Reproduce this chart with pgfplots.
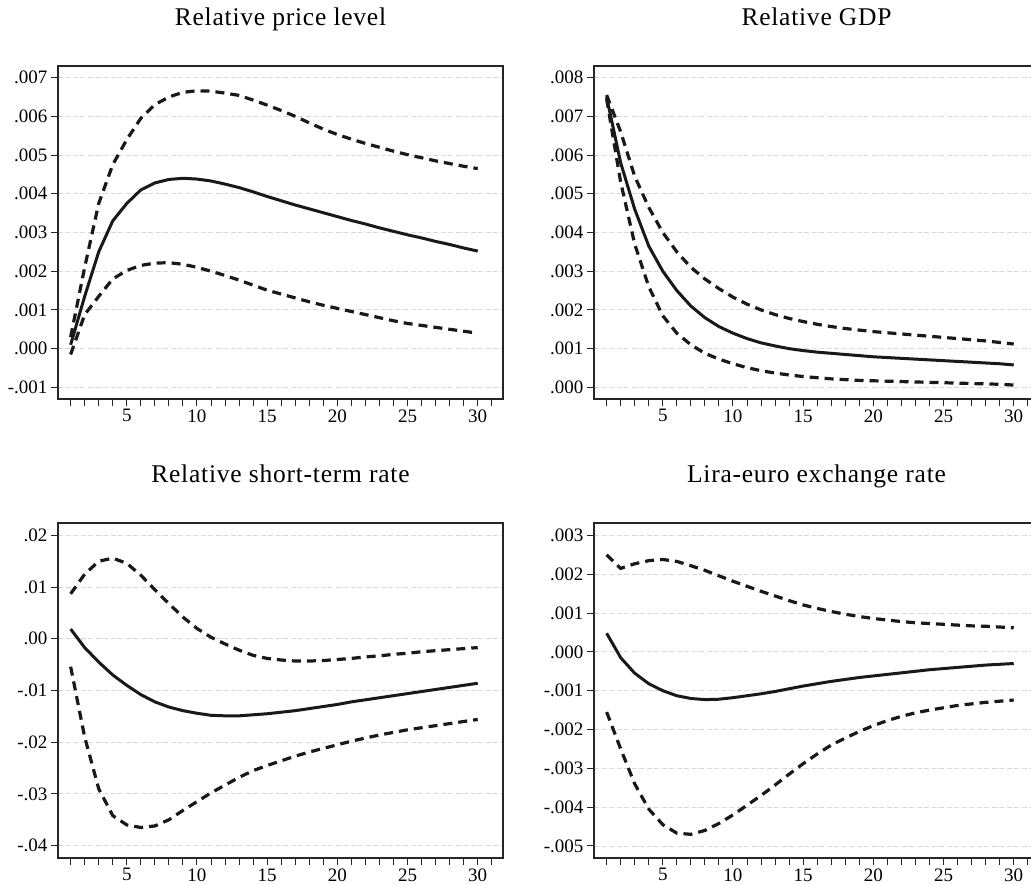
\documentclass[border=0pt]{standalone}
\usepackage{fontspec}
\setmainfont{Liberation Serif}
\usepackage{pgfplots}
\usepackage{pgfplotstable}
\pgfplotsset{compat=1.18}

\pgfplotstableread{
x mid lo hi
1 0.00010 -0.00015 0.00030
2 0.00135 0.00088 0.00210
3 0.00250 0.00135 0.00375
4 0.00330 0.00180 0.00475
5 0.00375 0.00202 0.00540
6 0.00410 0.00215 0.00595
7 0.00428 0.00221 0.00630
8 0.00437 0.00222 0.00650
9 0.00440 0.00218 0.00662
10 0.00438 0.00210 0.00666
11 0.00433 0.00200 0.00665
12 0.00425 0.00189 0.00660
13 0.00416 0.00177 0.00654
14 0.00405 0.00164 0.00642
15 0.00393 0.00151 0.00629
16 0.00382 0.00141 0.00615
17 0.00371 0.00131 0.00600
18 0.00361 0.00121 0.00583
19 0.00351 0.00112 0.00567
20 0.00341 0.00104 0.00553
21 0.00331 0.00096 0.00541
22 0.00322 0.00088 0.00530
23 0.00312 0.00080 0.00520
24 0.00303 0.00072 0.00510
25 0.00294 0.00065 0.00501
26 0.00286 0.00060 0.00493
27 0.00277 0.00055 0.00485
28 0.00269 0.00050 0.00478
29 0.00260 0.00045 0.00471
30 0.00252 0.00040 0.00465
}\price

\pgfplotstableread{
x mid lo hi
1 0.00750 0.00745 0.00755
2 0.00580 0.00530 0.00660
3 0.00460 0.00370 0.00545
4 0.00365 0.00260 0.00465
5 0.00300 0.00185 0.00400
6 0.00250 0.00140 0.00350
7 0.00210 0.00110 0.00310
8 0.00180 0.00088 0.00280
9 0.00157 0.00073 0.00255
10 0.00140 0.00061 0.00233
11 0.00126 0.00051 0.00215
12 0.00115 0.00043 0.00200
13 0.00107 0.00037 0.00188
14 0.00100 0.00032 0.00178
15 0.00095 0.00028 0.00170
16 0.00091 0.00025 0.00163
17 0.00088 0.00022 0.00157
18 0.00085 0.00020 0.00152
19 0.00082 0.00018 0.00148
20 0.00079 0.00017 0.00144
21 0.00077 0.00016 0.00141
22 0.00075 0.00015 0.00138
23 0.00073 0.00014 0.00135
24 0.00071 0.00013 0.00132
25 0.00069 0.00012 0.00129
26 0.00067 0.00011 0.00126
27 0.00065 0.00010 0.00123
28 0.00063 0.00009 0.00120
29 0.00061 0.00008 0.00116
30 0.00058 0.00006 0.00112
}\gdp

\pgfplotstableread{
x mid lo hi
1 0.0019 -0.0054 0.0087
2 -0.0017 -0.0190 0.0125
3 -0.0045 -0.0290 0.0150
4 -0.0070 -0.0342 0.0156
5 -0.0090 -0.0360 0.0146
6 -0.0108 -0.0365 0.0123
7 -0.0122 -0.0362 0.0095
8 -0.0132 -0.0350 0.0068
9 -0.0139 -0.0332 0.0042
10 -0.0144 -0.0315 0.0020
11 -0.0148 -0.0298 0.0003
12 -0.0149 -0.0283 -0.0010
13 -0.0149 -0.0268 -0.0022
14 -0.0147 -0.0255 -0.0032
15 -0.0145 -0.0245 -0.0038
16 -0.0142 -0.0236 -0.0041
17 -0.0139 -0.0227 -0.0043
18 -0.0135 -0.0219 -0.0043
19 -0.0131 -0.0212 -0.0042
20 -0.0127 -0.0205 -0.0040
21 -0.0122 -0.0198 -0.0038
22 -0.0118 -0.0192 -0.0035
23 -0.0114 -0.0186 -0.0033
24 -0.0110 -0.0181 -0.0030
25 -0.0106 -0.0176 -0.0028
26 -0.0102 -0.0172 -0.0025
27 -0.0098 -0.0168 -0.0023
28 -0.0094 -0.0164 -0.0021
29 -0.0090 -0.0160 -0.0019
30 -0.0086 -0.0156 -0.0017
}\rate

\pgfplotstableread{
x mid lo hi
1 0.00048 -0.00155 0.00250
2 -0.00015 -0.00250 0.00215
3 -0.00055 -0.00340 0.00227
4 -0.00082 -0.00405 0.00235
5 -0.00100 -0.00445 0.00238
6 -0.00113 -0.00467 0.00233
7 -0.00120 -0.00470 0.00222
8 -0.00123 -0.00460 0.00210
9 -0.00122 -0.00442 0.00196
10 -0.00118 -0.00420 0.00182
11 -0.00113 -0.00395 0.00169
12 -0.00108 -0.00370 0.00156
13 -0.00102 -0.00343 0.00144
14 -0.00095 -0.00315 0.00132
15 -0.00088 -0.00288 0.00121
16 -0.00082 -0.00263 0.00112
17 -0.00076 -0.00240 0.00104
18 -0.00071 -0.00222 0.00097
19 -0.00066 -0.00205 0.00091
20 -0.00062 -0.00190 0.00086
21 -0.00058 -0.00177 0.00082
22 -0.00054 -0.00166 0.00078
23 -0.00050 -0.00157 0.00075
24 -0.00046 -0.00150 0.00073
25 -0.00043 -0.00144 0.00071
26 -0.00040 -0.00138 0.00069
27 -0.00037 -0.00134 0.00067
28 -0.00034 -0.00130 0.00066
29 -0.00032 -0.00127 0.00064
30 -0.00030 -0.00124 0.00062
}\lira

\pgfplotsset{
  irf/.style={
    scale only axis, width=445pt,
    xmin=0.1, xmax=31.8,
    xtick={5,10,...,30}, minor xtick={1,...,31},
    tick align=outside, major tick length=7pt, minor tick length=7pt,
    xtick pos=bottom, ytick pos=left,
    axis line style={line width=1.6pt, black!85},
    every tick/.style={black!85, line width=1pt},
    ymajorgrids,
    major grid style={dash pattern=on 5pt off 2.5pt, black!15, line width=0.9pt},
    tick label style={font=\fontsize{19}{21}\selectfont},
    /pgf/number format/assume math mode=true,
    scaled y ticks=false,
    title style={font=\fontsize{25.5}{28}\selectfont\addfontfeatures{LetterSpace=3},
      at={(0.5,1)}, anchor=base, yshift=34.3pt},
    anchor=south west,
  },
  mid/.style={black!90, line width=3pt},
  band/.style={black!90, line width=3.2pt, dash pattern=on 9pt off 6pt},
}

\begin{document}
\begin{tikzpicture}
\path[use as bounding box] (0,0) rectangle (1031pt,884pt);

\begin{axis}[irf, at={(58pt,485pt)}, height=333pt,
  title={Relative price level},
  ymin=-0.0013, ymax=0.0073,
  ytick={-0.001,0,0.001,0.002,0.003,0.004,0.005,0.006,0.007},
  yticklabels={-.001,.000,.001,.002,.003,.004,.005,.006,.007}]
\addplot[band] table[x=x,y=hi]{\price};
\addplot[band] table[x=x,y=lo]{\price};
\addplot[mid] table[x=x,y=mid]{\price};
\end{axis}

\begin{axis}[irf, at={(594pt,485pt)}, height=333pt,
  title={Relative GDP},
  ymin=-0.0003, ymax=0.0083,
  ytick={0,0.001,0.002,0.003,0.004,0.005,0.006,0.007,0.008},
  yticklabels={.000,.001,.002,.003,.004,.005,.006,.007,.008}]
\addplot[band] table[x=x,y=hi]{\gdp};
\addplot[band] table[x=x,y=lo]{\gdp};
\addplot[mid] table[x=x,y=mid]{\gdp};
\end{axis}

\begin{axis}[irf, at={(58pt,26pt)}, height=335pt,
  title={Relative short-term rate},
  ymin=-0.0424, ymax=0.0224,
  ytick={-0.04,-0.03,-0.02,-0.01,0,0.01,0.02},
  yticklabels={-.04,-.03,-.02,-.01,.00,.01,.02}]
\addplot[band] table[x=x,y=hi]{\rate};
\addplot[band] table[x=x,y=lo]{\rate};
\addplot[mid] table[x=x,y=mid]{\rate};
\end{axis}

\begin{axis}[irf, at={(594pt,26pt)}, height=335pt,
  title={Lira-euro exchange rate},
  ymin=-0.00531, ymax=0.00332,
  ytick={-0.005,-0.004,-0.003,-0.002,-0.001,0,0.001,0.002,0.003},
  yticklabels={-.005,-.004,-.003,-.002,-.001,.000,.001,.002,.003}]
\addplot[band] table[x=x,y=hi]{\lira};
\addplot[band] table[x=x,y=lo]{\lira};
\addplot[mid] table[x=x,y=mid]{\lira};
\end{axis}
\end{tikzpicture}
\end{document}
